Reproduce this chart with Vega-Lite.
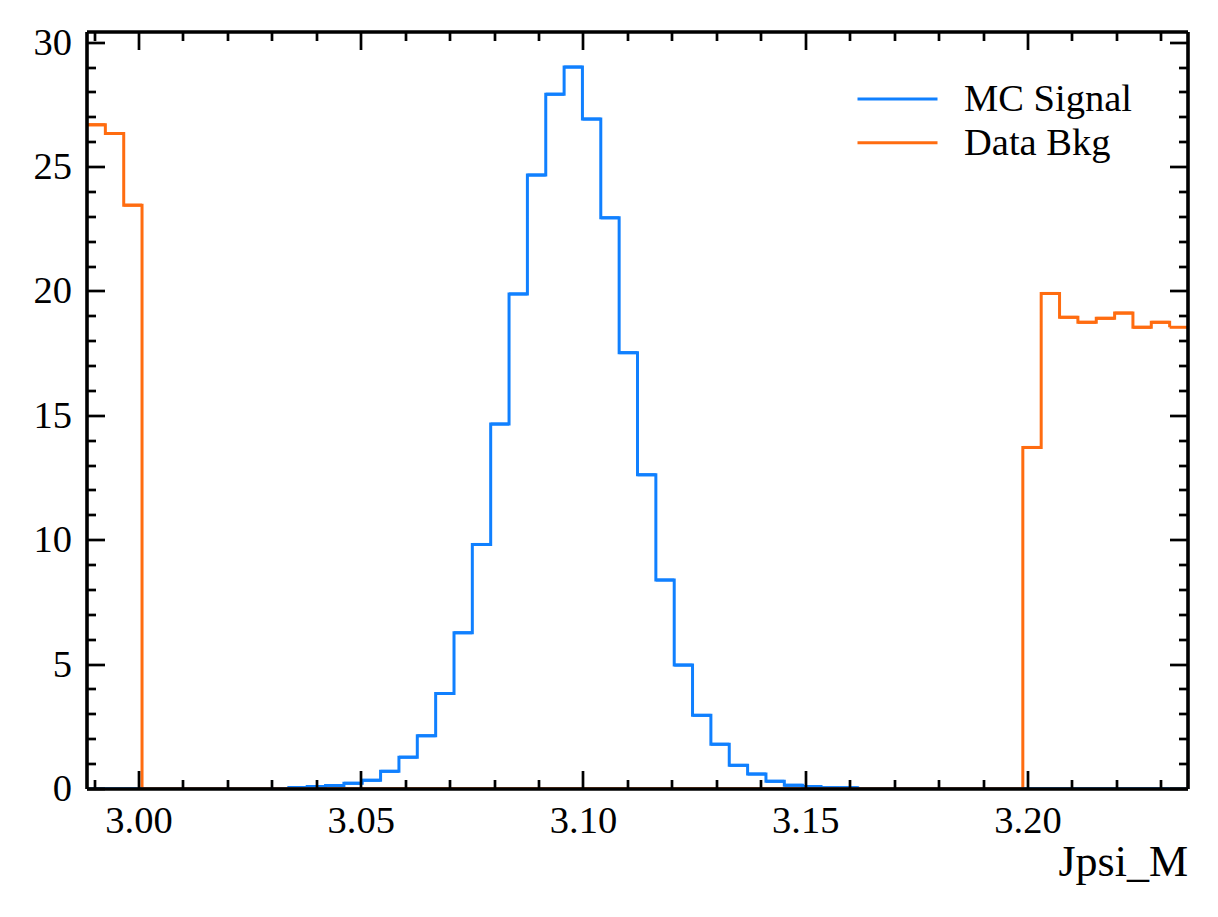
{
 "$schema": "https://vega.github.io/schema/vega-lite/v6.json",
 "width": 1101,
 "height": 757,
 "autosize": {"type": "none"},
 "padding": {"left": 87, "top": 32, "right": 30, "bottom": 128},
 "background": "white",
 "config": {
  "view": {"stroke": null},
  "axis": {"grid": false, "domainColor": "black", "domainWidth": 3.6, "translate": 0, "tickColor": "black", "tickWidth": 2.7, "labelColor": "black", "labelFont": "Liberation Serif", "labelFontSize": 38.5, "titleFont": "Liberation Serif", "titleColor": "black", "zindex": 2, "labelOverlap": false, "labelFlush": false, "labelBound": false},
  "legend": {"title": null, "symbolType": "stroke", "symbolSize": 6400, "symbolStrokeWidth": 3, "labelFont": "Liberation Serif", "labelFontSize": 38.5, "labelColor": "black", "labelOffset": 25, "labelLimit": 0, "padding": 0, "rowPadding": 3.7, "clipHeight": 40}
 },
 "data": {"values": [
  {"s": "MC Signal", "x0": 2.98830, "x1": 2.99243, "n": 0},
  {"s": "MC Signal", "x0": 2.99243, "x1": 2.99656, "n": 0},
  {"s": "MC Signal", "x0": 2.99656, "x1": 3.00068, "n": 0},
  {"s": "MC Signal", "x0": 3.00068, "x1": 3.00481, "n": 0},
  {"s": "MC Signal", "x0": 3.00481, "x1": 3.00894, "n": 0},
  {"s": "MC Signal", "x0": 3.00894, "x1": 3.01307, "n": 0},
  {"s": "MC Signal", "x0": 3.01307, "x1": 3.01720, "n": 0},
  {"s": "MC Signal", "x0": 3.01720, "x1": 3.02133, "n": 0},
  {"s": "MC Signal", "x0": 3.02133, "x1": 3.02545, "n": 0},
  {"s": "MC Signal", "x0": 3.02545, "x1": 3.02958, "n": 0},
  {"s": "MC Signal", "x0": 3.02958, "x1": 3.03371, "n": 0},
  {"s": "MC Signal", "x0": 3.03371, "x1": 3.03784, "n": 0.06},
  {"s": "MC Signal", "x0": 3.03784, "x1": 3.04197, "n": 0.1},
  {"s": "MC Signal", "x0": 3.04197, "x1": 3.04610, "n": 0.14},
  {"s": "MC Signal", "x0": 3.04610, "x1": 3.05022, "n": 0.23},
  {"s": "MC Signal", "x0": 3.05022, "x1": 3.05435, "n": 0.35},
  {"s": "MC Signal", "x0": 3.05435, "x1": 3.05848, "n": 0.71},
  {"s": "MC Signal", "x0": 3.05848, "x1": 3.06261, "n": 1.28},
  {"s": "MC Signal", "x0": 3.06261, "x1": 3.06674, "n": 2.14},
  {"s": "MC Signal", "x0": 3.06674, "x1": 3.07087, "n": 3.84},
  {"s": "MC Signal", "x0": 3.07087, "x1": 3.07499, "n": 6.28},
  {"s": "MC Signal", "x0": 3.07499, "x1": 3.07912, "n": 9.83},
  {"s": "MC Signal", "x0": 3.07912, "x1": 3.08325, "n": 14.67},
  {"s": "MC Signal", "x0": 3.08325, "x1": 3.08738, "n": 19.9},
  {"s": "MC Signal", "x0": 3.08738, "x1": 3.09151, "n": 24.68},
  {"s": "MC Signal", "x0": 3.09151, "x1": 3.09564, "n": 27.93},
  {"s": "MC Signal", "x0": 3.09564, "x1": 3.09976, "n": 29.02},
  {"s": "MC Signal", "x0": 3.09976, "x1": 3.10389, "n": 26.93},
  {"s": "MC Signal", "x0": 3.10389, "x1": 3.10802, "n": 22.96},
  {"s": "MC Signal", "x0": 3.10802, "x1": 3.11215, "n": 17.54},
  {"s": "MC Signal", "x0": 3.11215, "x1": 3.11628, "n": 12.63},
  {"s": "MC Signal", "x0": 3.11628, "x1": 3.12041, "n": 8.4},
  {"s": "MC Signal", "x0": 3.12041, "x1": 3.12453, "n": 4.98},
  {"s": "MC Signal", "x0": 3.12453, "x1": 3.12866, "n": 2.96},
  {"s": "MC Signal", "x0": 3.12866, "x1": 3.13279, "n": 1.8},
  {"s": "MC Signal", "x0": 3.13279, "x1": 3.13692, "n": 0.95},
  {"s": "MC Signal", "x0": 3.13692, "x1": 3.14105, "n": 0.6},
  {"s": "MC Signal", "x0": 3.14105, "x1": 3.14518, "n": 0.31},
  {"s": "MC Signal", "x0": 3.14518, "x1": 3.14930, "n": 0.15},
  {"s": "MC Signal", "x0": 3.14930, "x1": 3.15343, "n": 0.1},
  {"s": "MC Signal", "x0": 3.15343, "x1": 3.15756, "n": 0.05},
  {"s": "MC Signal", "x0": 3.15756, "x1": 3.16169, "n": 0.05},
  {"s": "MC Signal", "x0": 3.16169, "x1": 3.16582, "n": 0},
  {"s": "MC Signal", "x0": 3.16582, "x1": 3.16995, "n": 0},
  {"s": "MC Signal", "x0": 3.16995, "x1": 3.17407, "n": 0},
  {"s": "MC Signal", "x0": 3.17407, "x1": 3.17820, "n": 0},
  {"s": "MC Signal", "x0": 3.17820, "x1": 3.18233, "n": 0},
  {"s": "MC Signal", "x0": 3.18233, "x1": 3.18646, "n": 0},
  {"s": "MC Signal", "x0": 3.18646, "x1": 3.19059, "n": 0},
  {"s": "MC Signal", "x0": 3.19059, "x1": 3.19472, "n": 0},
  {"s": "MC Signal", "x0": 3.19472, "x1": 3.19884, "n": 0},
  {"s": "MC Signal", "x0": 3.19884, "x1": 3.20297, "n": 0},
  {"s": "MC Signal", "x0": 3.20297, "x1": 3.20710, "n": 0},
  {"s": "MC Signal", "x0": 3.20710, "x1": 3.21123, "n": 0},
  {"s": "MC Signal", "x0": 3.21123, "x1": 3.21536, "n": 0},
  {"s": "MC Signal", "x0": 3.21536, "x1": 3.21949, "n": 0},
  {"s": "MC Signal", "x0": 3.21949, "x1": 3.22361, "n": 0},
  {"s": "MC Signal", "x0": 3.22361, "x1": 3.22774, "n": 0},
  {"s": "MC Signal", "x0": 3.22774, "x1": 3.23187, "n": 0},
  {"s": "MC Signal", "x0": 3.23187, "x1": 3.23600, "n": 0},
  {"s": "Data Bkg", "x0": 2.98830, "x1": 2.99243, "n": 26.7},
  {"s": "Data Bkg", "x0": 2.99243, "x1": 2.99656, "n": 26.35},
  {"s": "Data Bkg", "x0": 2.99656, "x1": 3.00068, "n": 23.47},
  {"s": "Data Bkg", "x0": 3.00068, "x1": 3.00481, "n": 0},
  {"s": "Data Bkg", "x0": 3.00481, "x1": 3.00894, "n": 0},
  {"s": "Data Bkg", "x0": 3.00894, "x1": 3.01307, "n": 0},
  {"s": "Data Bkg", "x0": 3.01307, "x1": 3.01720, "n": 0},
  {"s": "Data Bkg", "x0": 3.01720, "x1": 3.02133, "n": 0},
  {"s": "Data Bkg", "x0": 3.02133, "x1": 3.02545, "n": 0},
  {"s": "Data Bkg", "x0": 3.02545, "x1": 3.02958, "n": 0},
  {"s": "Data Bkg", "x0": 3.02958, "x1": 3.03371, "n": 0},
  {"s": "Data Bkg", "x0": 3.03371, "x1": 3.03784, "n": 0},
  {"s": "Data Bkg", "x0": 3.03784, "x1": 3.04197, "n": 0},
  {"s": "Data Bkg", "x0": 3.04197, "x1": 3.04610, "n": 0},
  {"s": "Data Bkg", "x0": 3.04610, "x1": 3.05022, "n": 0},
  {"s": "Data Bkg", "x0": 3.05022, "x1": 3.05435, "n": 0},
  {"s": "Data Bkg", "x0": 3.05435, "x1": 3.05848, "n": 0},
  {"s": "Data Bkg", "x0": 3.05848, "x1": 3.06261, "n": 0},
  {"s": "Data Bkg", "x0": 3.06261, "x1": 3.06674, "n": 0},
  {"s": "Data Bkg", "x0": 3.06674, "x1": 3.07087, "n": 0},
  {"s": "Data Bkg", "x0": 3.07087, "x1": 3.07499, "n": 0},
  {"s": "Data Bkg", "x0": 3.07499, "x1": 3.07912, "n": 0},
  {"s": "Data Bkg", "x0": 3.07912, "x1": 3.08325, "n": 0},
  {"s": "Data Bkg", "x0": 3.08325, "x1": 3.08738, "n": 0},
  {"s": "Data Bkg", "x0": 3.08738, "x1": 3.09151, "n": 0},
  {"s": "Data Bkg", "x0": 3.09151, "x1": 3.09564, "n": 0},
  {"s": "Data Bkg", "x0": 3.09564, "x1": 3.09976, "n": 0},
  {"s": "Data Bkg", "x0": 3.09976, "x1": 3.10389, "n": 0},
  {"s": "Data Bkg", "x0": 3.10389, "x1": 3.10802, "n": 0},
  {"s": "Data Bkg", "x0": 3.10802, "x1": 3.11215, "n": 0},
  {"s": "Data Bkg", "x0": 3.11215, "x1": 3.11628, "n": 0},
  {"s": "Data Bkg", "x0": 3.11628, "x1": 3.12041, "n": 0},
  {"s": "Data Bkg", "x0": 3.12041, "x1": 3.12453, "n": 0},
  {"s": "Data Bkg", "x0": 3.12453, "x1": 3.12866, "n": 0},
  {"s": "Data Bkg", "x0": 3.12866, "x1": 3.13279, "n": 0},
  {"s": "Data Bkg", "x0": 3.13279, "x1": 3.13692, "n": 0},
  {"s": "Data Bkg", "x0": 3.13692, "x1": 3.14105, "n": 0},
  {"s": "Data Bkg", "x0": 3.14105, "x1": 3.14518, "n": 0},
  {"s": "Data Bkg", "x0": 3.14518, "x1": 3.14930, "n": 0},
  {"s": "Data Bkg", "x0": 3.14930, "x1": 3.15343, "n": 0},
  {"s": "Data Bkg", "x0": 3.15343, "x1": 3.15756, "n": 0},
  {"s": "Data Bkg", "x0": 3.15756, "x1": 3.16169, "n": 0},
  {"s": "Data Bkg", "x0": 3.16169, "x1": 3.16582, "n": 0},
  {"s": "Data Bkg", "x0": 3.16582, "x1": 3.16995, "n": 0},
  {"s": "Data Bkg", "x0": 3.16995, "x1": 3.17407, "n": 0},
  {"s": "Data Bkg", "x0": 3.17407, "x1": 3.17820, "n": 0},
  {"s": "Data Bkg", "x0": 3.17820, "x1": 3.18233, "n": 0},
  {"s": "Data Bkg", "x0": 3.18233, "x1": 3.18646, "n": 0},
  {"s": "Data Bkg", "x0": 3.18646, "x1": 3.19059, "n": 0},
  {"s": "Data Bkg", "x0": 3.19059, "x1": 3.19472, "n": 0},
  {"s": "Data Bkg", "x0": 3.19472, "x1": 3.19884, "n": 0},
  {"s": "Data Bkg", "x0": 3.19884, "x1": 3.20297, "n": 13.73},
  {"s": "Data Bkg", "x0": 3.20297, "x1": 3.20710, "n": 19.92},
  {"s": "Data Bkg", "x0": 3.20710, "x1": 3.21123, "n": 18.96},
  {"s": "Data Bkg", "x0": 3.21123, "x1": 3.21536, "n": 18.76},
  {"s": "Data Bkg", "x0": 3.21536, "x1": 3.21949, "n": 18.92},
  {"s": "Data Bkg", "x0": 3.21949, "x1": 3.22361, "n": 19.13},
  {"s": "Data Bkg", "x0": 3.22361, "x1": 3.22774, "n": 18.56},
  {"s": "Data Bkg", "x0": 3.22774, "x1": 3.23187, "n": 18.76},
  {"s": "Data Bkg", "x0": 3.23187, "x1": 3.23600, "n": 18.56}
 ]},
 "layer": [
  {
   "mark": {"type": "line", "interpolate": "step-after", "strokeWidth": 3, "strokeJoin": "miter", "clip": true},
   "encoding": {
    "x": {"field": "x0", "type": "quantitative",
     "scale": {"domain": [2.9883, 3.236], "nice": false, "zero": false},
     "axis": {"orient": "bottom", "zindex": 2, "values": [2.99, 3.0, 3.01, 3.02, 3.03, 3.04, 3.05, 3.06, 3.07, 3.08, 3.09, 3.1, 3.11, 3.12, 3.13, 3.14, 3.15, 3.16, 3.17, 3.18, 3.19, 3.2, 3.21, 3.22, 3.23],
      "tickSize": {"condition": {"test": "abs(datum.value*20 - round(datum.value*20)) < 0.001", "value": -18}, "value": -9},
      "labelExpr": "abs(datum.value*20 - round(datum.value*20)) < 0.001 ? format(datum.value, '.2f') : ''",
      "labelBaseline": "alphabetic", "labelPadding": 61.7,
      "title": "Jpsi_M", "titleFontSize": 44, "titleFontWeight": "normal", "titleAlign": "right", "titleAnchor": "end", "titleBaseline": "alphabetic", "titleX": 1101, "titleY": 87}},
    "y": {"field": "n", "type": "quantitative",
     "scale": {"domain": [0, 30.43], "nice": false, "zero": true},
     "axis": {"orient": "left", "zindex": 2, "values": [0,1,2,3,4,5,6,7,8,9,10,11,12,13,14,15,16,17,18,19,20,21,22,23,24,25,26,27,28,29,30],
      "tickSize": {"condition": {"test": "datum.value % 5 == 0", "value": -18}, "value": -9},
      "labelExpr": "datum.value % 5 == 0 ? datum.label : ''",
      "labelAlign": "right", "labelBaseline": "middle", "labelPadding": 33, "title": null}},
    "color": {"field": "s", "type": "nominal",
     "scale": {"domain": ["MC Signal", "Data Bkg"], "range": ["#1080ff", "#ff6c10"]},
     "legend": {"orient": "none", "legendX": 769, "legendY": 47}}
   }
  },
  {
   "mark": {"type": "rule", "strokeWidth": 3, "strokeCap": "butt", "clip": true},
   "encoding": {
    "x": {"field": "x0", "type": "quantitative",
     "axis": {"orient": "top", "zindex": 2, "values": [2.99, 3.0, 3.01, 3.02, 3.03, 3.04, 3.05, 3.06, 3.07, 3.08, 3.09, 3.1, 3.11, 3.12, 3.13, 3.14, 3.15, 3.16, 3.17, 3.18, 3.19, 3.2, 3.21, 3.22, 3.23],
      "tickSize": {"condition": {"test": "abs(datum.value*20 - round(datum.value*20)) < 0.001", "value": -18}, "value": -9},
      "labels": false, "title": null}},
    "x2": {"field": "x1"},
    "y": {"field": "n", "type": "quantitative",
     "axis": {"orient": "right", "zindex": 2, "values": [0,1,2,3,4,5,6,7,8,9,10,11,12,13,14,15,16,17,18,19,20,21,22,23,24,25,26,27,28,29,30],
      "tickSize": {"condition": {"test": "datum.value % 5 == 0", "value": -18}, "value": -9},
      "labels": false, "title": null}},
    "color": {"field": "s", "type": "nominal",
     "legend": {"orient": "none", "legendX": 769, "legendY": 47}}
   }
  }
 ],
 "resolve": {"axis": {"x": "independent", "y": "independent"}}
}
